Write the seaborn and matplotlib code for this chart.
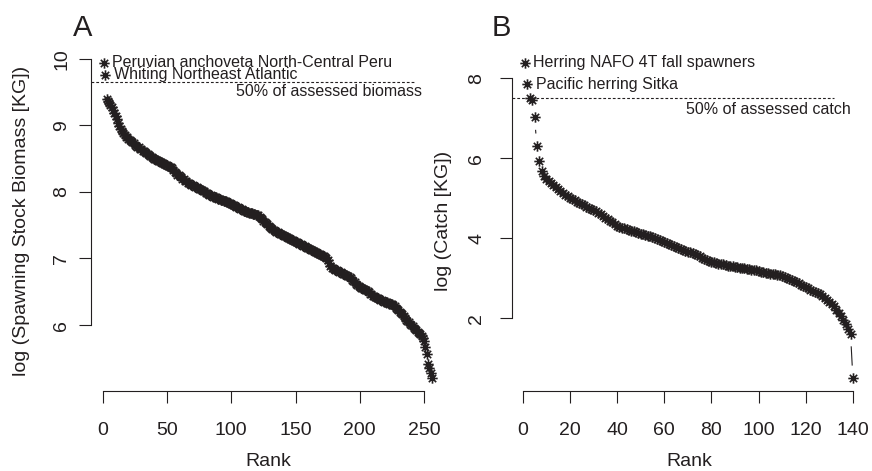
import numpy as np
import pandas as pd
import matplotlib
matplotlib.use("Agg")
import matplotlib.pyplot as plt
import seaborn as sns
from matplotlib.path import Path
from matplotlib.collections import LineCollection

# ---- data ---------------------------------------------------------------
# Panel A: log spawning stock biomass, ranked (rank 1 .. 256)
biomass_log = [
    9.94, 9.76, 9.40, 9.37, 9.34, 9.31, 9.27, 9.23, 9.19, 9.14,
    9.09, 9.04, 8.99, 8.95, 8.91, 8.88, 8.85, 8.83, 8.82, 8.80,
    8.78, 8.77, 8.75, 8.73, 8.71, 8.69, 8.68, 8.67, 8.65, 8.64,
    8.62, 8.61, 8.60, 8.58, 8.57, 8.55, 8.54, 8.52, 8.51, 8.50,
    8.49, 8.48, 8.47, 8.46, 8.45, 8.44, 8.43, 8.42, 8.41, 8.40,
    8.39, 8.38, 8.37, 8.36, 8.33, 8.30, 8.28, 8.26, 8.25, 8.24,
    8.22, 8.20, 8.19, 8.17, 8.16, 8.14, 8.13, 8.12, 8.11, 8.10,
    8.09, 8.08, 8.07, 8.06, 8.05, 8.04, 8.03, 8.02, 8.01, 7.99,
    7.98, 7.97, 7.96, 7.95, 7.94, 7.93, 7.92, 7.92, 7.91, 7.90,
    7.89, 7.88, 7.88, 7.87, 7.86, 7.86, 7.85, 7.84, 7.83, 7.82,
    7.81, 7.80, 7.79, 7.78, 7.77, 7.76, 7.75, 7.74, 7.73, 7.72,
    7.71, 7.70, 7.70, 7.69, 7.68, 7.68, 7.67, 7.67, 7.66, 7.66,
    7.65, 7.63, 7.61, 7.59, 7.57, 7.55, 7.53, 7.51, 7.49, 7.47,
    7.46, 7.44, 7.43, 7.41, 7.40, 7.39, 7.38, 7.37, 7.36, 7.35,
    7.34, 7.33, 7.32, 7.31, 7.30, 7.29, 7.28, 7.27, 7.26, 7.25,
    7.24, 7.23, 7.22, 7.21, 7.20, 7.19, 7.18, 7.17, 7.16, 7.15,
    7.14, 7.13, 7.12, 7.11, 7.10, 7.09, 7.08, 7.07, 7.06, 7.05,
    7.04, 7.03, 7.02, 7.00, 6.98, 6.93, 6.88, 6.86, 6.85, 6.84,
    6.83, 6.82, 6.81, 6.80, 6.79, 6.78, 6.77, 6.76, 6.75, 6.74,
    6.73, 6.72, 6.70, 6.68, 6.66, 6.64, 6.62, 6.60, 6.59, 6.57,
    6.56, 6.55, 6.54, 6.53, 6.52, 6.51, 6.49, 6.47, 6.46, 6.44,
    6.43, 6.42, 6.41, 6.40, 6.39, 6.38, 6.37, 6.36, 6.35, 6.34,
    6.34, 6.33, 6.32, 6.32, 6.31, 6.30, 6.28, 6.26, 6.24, 6.22,
    6.20, 6.18, 6.16, 6.14, 6.11, 6.08, 6.06, 6.04, 6.02, 6.00,
    5.98, 5.96, 5.94, 5.92, 5.90, 5.88, 5.86, 5.83, 5.80, 5.76,
    5.67, 5.57, 5.42, 5.35, 5.28, 5.20,
]
biomass_half = 9.655
biomass_names = ["Peruvian anchoveta North-Central Peru", "Whiting Northeast Atlantic"]

# Panel B: log catch, ranked (rank 1 .. 140)
catch_log = [
    8.39, 7.85, 7.50, 7.45, 7.03, 6.30, 5.92, 5.67, 5.55, 5.47,
    5.42, 5.37, 5.33, 5.28, 5.23, 5.18, 5.13, 5.09, 5.05, 5.01,
    4.98, 4.95, 4.91, 4.88, 4.85, 4.82, 4.79, 4.76, 4.73, 4.70,
    4.67, 4.64, 4.60, 4.56, 4.51, 4.47, 4.43, 4.40, 4.36, 4.32,
    4.29, 4.27, 4.25, 4.23, 4.21, 4.19, 4.18, 4.16, 4.14, 4.12,
    4.10, 4.09, 4.07, 4.05, 4.03, 4.01, 3.98, 3.95, 3.93, 3.91,
    3.88, 3.86, 3.84, 3.81, 3.79, 3.76, 3.73, 3.71, 3.69, 3.67,
    3.65, 3.63, 3.60, 3.58, 3.55, 3.52, 3.49, 3.46, 3.43, 3.41,
    3.40, 3.38, 3.37, 3.36, 3.35, 3.33, 3.32, 3.31, 3.30, 3.29,
    3.28, 3.27, 3.26, 3.25, 3.24, 3.23, 3.22, 3.21, 3.20, 3.19,
    3.17, 3.15, 3.14, 3.13, 3.12, 3.11, 3.10, 3.09, 3.08, 3.06,
    3.04, 3.01, 2.98, 2.96, 2.93, 2.90, 2.88, 2.84, 2.81, 2.78,
    2.75, 2.72, 2.69, 2.66, 2.63, 2.60, 2.56, 2.51, 2.47, 2.42,
    2.37, 2.30, 2.22, 2.14, 2.05, 1.96, 1.85, 1.74, 1.62, 0.50,
]
catch_half = 7.50
catch_names = ["Herring NAFO 4T fall spawners", "Pacific herring Sitka"]

ticks_a_x = [0, 50, 100, 150, 200, 250]
ticks_a_y = [6, 7, 8, 9, 10]
ticks_b_x = [0, 20, 40, 60, 80, 100, 120, 140]
ticks_b_y = [2, 4, 6, 8]

INK = "#231f20"

sns.set_theme(style="ticks")
plt.rcParams.update({
    "font.size": 14,
    "axes.edgecolor": INK,
    "axes.linewidth": 0.8,
    "xtick.color": INK,
    "ytick.color": INK,
    "text.color": INK,
})
plt.rcParams["font.family"] = ["Liberation Sans", "DejaVu Sans"]

# R's pch = 8 asterisk
asterisk = Path(
    [(-1, 0), (1, 0), (0, -1), (0, 1),
     (-0.707, -0.707), (0.707, 0.707), (-0.707, 0.707), (0.707, -0.707)],
    [Path.MOVETO, Path.LINETO] * 4,
)

W, H = 872, 471
fig = plt.figure(figsize=(W / 100, H / 100), dpi=100)


def r_limits(v):
    lo, hi = min(v), max(v)
    pad = 0.04 * (hi - lo)
    return lo - pad, hi + pad


def gapped_lines(ax, x, y, gap_px=12.8):
    # type = "b": segments stop short of each point
    pts = ax.transData.transform(np.column_stack([x, y]))
    inv = ax.transData.inverted()
    segs = []
    for p, q in zip(pts[:-1], pts[1:]):
        d = q - p
        n = np.hypot(*d)
        if n > 2 * gap_px:
            u = d / n
            segs.append(inv.transform([p + u * gap_px, q - u * gap_px]))
    ax.add_collection(LineCollection(segs, colors=INK, linewidths=0.8))


def panel(left_px, values, half, names, xt, yt, half_end, half_label,
          label_x, label_y, ylab, ylab_x, letter, letter_x, ypad):
    ax = fig.add_axes([left_px / W, (H - 391) / H, 354 / W, 341 / H])
    df = pd.DataFrame({"rank": np.arange(1, len(values) + 1), "value": values})
    ax.set_xlim(*r_limits(df["rank"]))
    ax.set_ylim(*r_limits(df["value"]))

    gapped_lines(ax, df["rank"], df["value"])
    sns.scatterplot(data=df, x="rank", y="value", ax=ax, marker=asterisk, s=56,
                    color=INK, edgecolor=INK, linewidth=1.2, zorder=3)

    x0 = ax.get_xlim()[0]
    ax.plot([x0, half_end], [half, half], ls=(0, (2.5, 1.8)), lw=0.8, color=INK)
    ax.text(label_x, label_y, half_label, ha="right", va="center", fontsize=11.5)

    for i, name in enumerate(names):
        ax.annotate(name, (df["rank"][i], df["value"][i]), xytext=(6, 0),
                    textcoords="offset points", ha="left", va="center",
                    fontsize=11.5)

    sns.despine(ax=ax)
    ax.spines["bottom"].set_bounds(xt[0], xt[-1])
    ax.spines["left"].set_bounds(yt[0], yt[-1])
    ax.set_xticks(xt)
    ax.set_yticks(yt)
    ax.set_yticklabels([str(t) for t in yt], rotation=90, va="center")
    ax.tick_params(axis="both", direction="out", length=8.4, width=0.8, labelsize=14)
    ax.tick_params(axis="x", pad=14)
    ax.tick_params(axis="y", pad=ypad)
    ax.set_xlabel("")
    ax.set_ylabel("")

    cx = (left_px + 177) / W
    fig.text(cx, 1 - 461.7 / H, "Rank", ha="center", va="center", fontsize=14)
    fig.text(ylab_x / W, 1 - 220.5 / H, ylab, rotation=90, ha="center",
             va="center", fontsize=14)
    fig.text(letter_x / W, 1 - 27.5 / H, letter, ha="center", va="center", fontsize=21)
    return ax


panel(90.9, biomass_log, biomass_half, biomass_names, ticks_a_x, ticks_a_y,
      242, "50% of assessed biomass", 248, 9.50,
      "log (Spawning Stock Biomass [KG])", 22, "A", 83, 6.5)
panel(512.0, catch_log, catch_half, catch_names, ticks_b_x, ticks_b_y,
      131.8, "50% of assessed catch", 139.2, 7.22,
      "log (Catch [KG])", 443, "B", 501, 11)

fig.savefig("out.png", dpi=100)
